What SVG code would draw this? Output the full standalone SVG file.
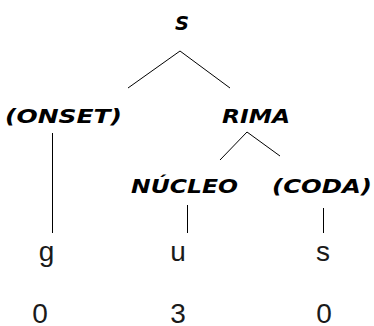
<svg xmlns="http://www.w3.org/2000/svg" width="374" height="326" viewBox="0 0 374 326">
  <style>
    .lbl { font-family: "DejaVu Sans", "Liberation Sans", sans-serif; font-weight: bold; font-style: italic; font-size: 20px; fill: #000; }
    .seg { font-family: "Liberation Sans", Arial, sans-serif; font-size: 28px; fill: #1a1a1a; }
    .edge { stroke: #000; stroke-width: 1; fill: none; }
  </style>
  <rect width="374" height="326" fill="#fff"/>

  <!-- tree branches -->
  <g id="connectors">
    <line class="edge" x1="180" y1="51" x2="128" y2="88"/>
    <line class="edge" x1="180" y1="51" x2="230" y2="88"/>
    <line class="edge" x1="52.5" y1="133" x2="52.5" y2="233"/>
    <line class="edge" x1="247" y1="132" x2="220" y2="160"/>
    <line class="edge" x1="247" y1="132" x2="280" y2="156"/>
    <line class="edge" x1="187.5" y1="205" x2="187.5" y2="233"/>
    <line class="edge" x1="323.5" y1="208" x2="323.5" y2="233"/>
  </g>

  <!-- syllable constituents -->
  <g id="node-s"><text class="lbl" x="175" y="30" textLength="14" lengthAdjust="spacingAndGlyphs">S</text></g>
  <g id="node-onset"><text class="lbl" x="5" y="123" textLength="117" lengthAdjust="spacingAndGlyphs">(ONSET)</text></g>
  <g id="node-rima"><text class="lbl" x="222" y="123" textLength="68" lengthAdjust="spacingAndGlyphs">RIMA</text></g>
  <g id="node-nucleo"><text class="lbl" x="131" y="193" textLength="107" lengthAdjust="spacingAndGlyphs">NÚCLEO</text></g>
  <g id="node-coda"><text class="lbl" x="272" y="193" textLength="100" lengthAdjust="spacingAndGlyphs">(CODA)</text></g>

  <!-- segments -->
  <g id="node-g"><text class="seg" x="46.5" y="261" text-anchor="middle">g</text></g>
  <g id="node-u"><text class="seg" x="178" y="261" text-anchor="middle">u</text></g>
  <g id="node-s-seg"><text class="seg" x="323" y="261" text-anchor="middle">s</text></g>

  <!-- values -->
  <g id="val-g"><text class="seg" x="40" y="323" text-anchor="middle">0</text></g>
  <g id="val-u"><text class="seg" x="178" y="323" text-anchor="middle">3</text></g>
  <g id="val-s"><text class="seg" x="324" y="323" text-anchor="middle">0</text></g>
</svg>
